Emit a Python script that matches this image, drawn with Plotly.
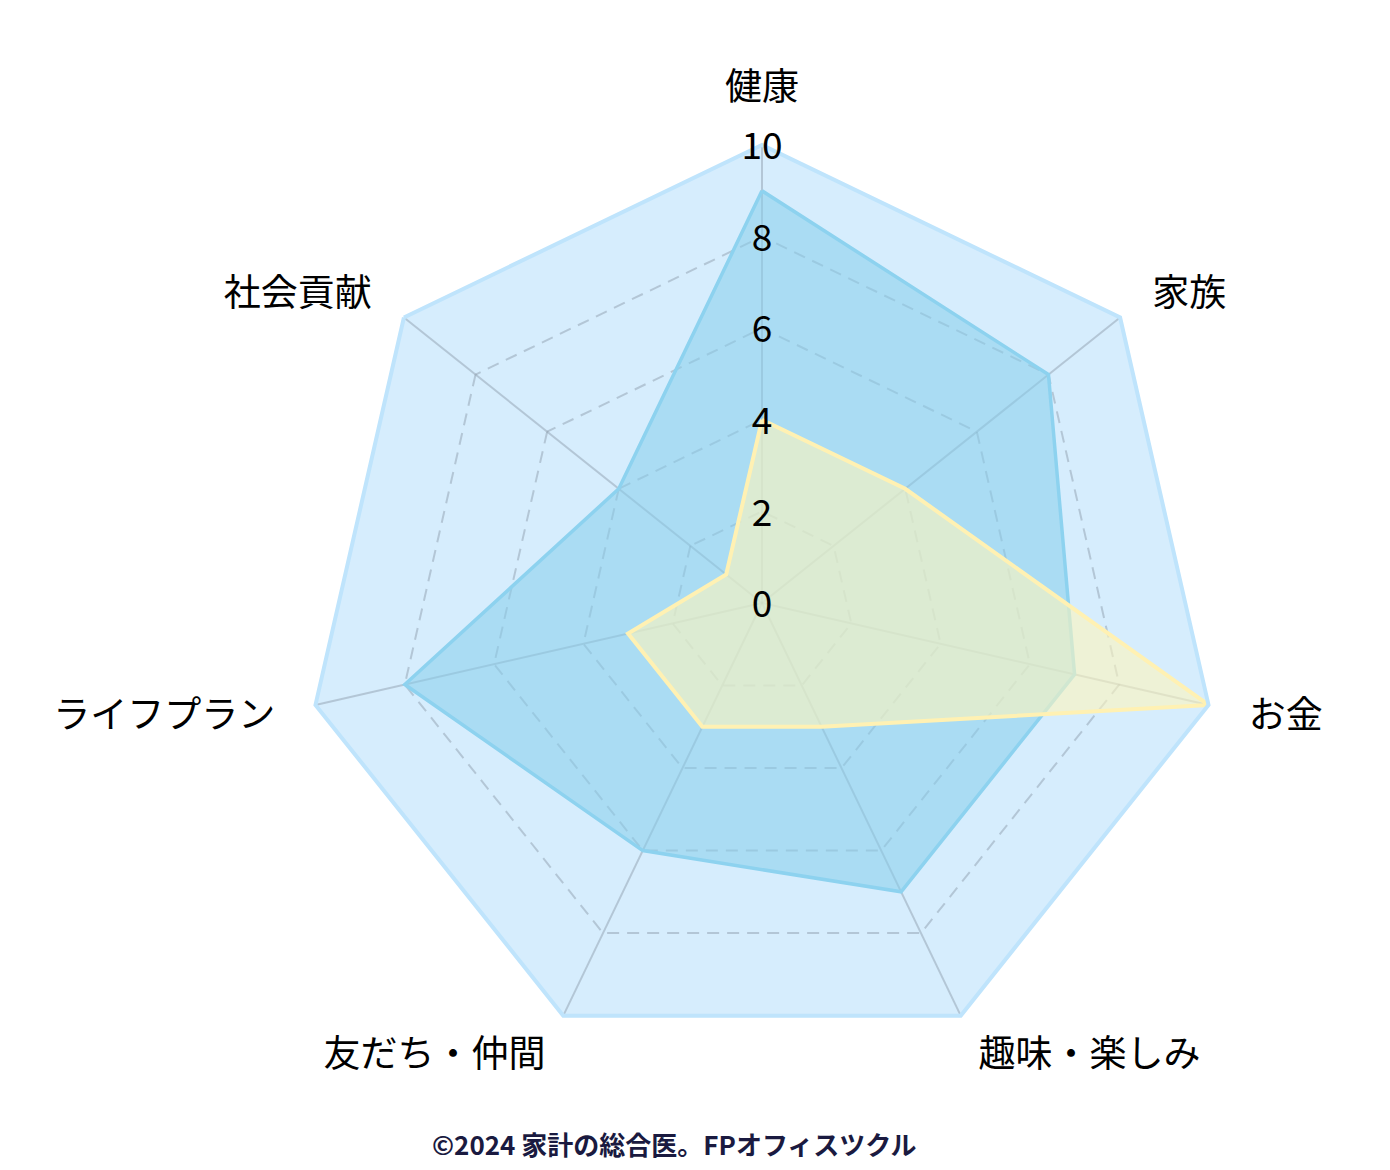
import math
import plotly.graph_objects as go

# ---------------- data ----------------
categories = ["健康", "家族", "お金", "趣味・楽しみ", "友だち・仲間", "ライフプラン", "社会貢献"]
series_blue = [9, 8, 7, 7, 6, 8, 4]
series_yellow = [4, 4, 10, 3, 3, 3, 1]
radial_ticks = [0, 2, 4, 6, 8, 10]
radial_tick_labels = ["0", "2", "4", "6", "8", "10"]
footer_text = "©2024 家計の総合医。FPオフィスツクル"

# ---------------- layout constants ----------------
W, H = 1390, 1170
PAGE_OFF = 8               # body margin of the html page
CX, CY = 762 - PAGE_OFF, 603 - PAGE_OFF   # chart centre in figure pixels
TEXT_DY = 5                # text overlay sits a few px lower
R_MAIN = 458               # pixel radius of the value 10
R_MAX = 10
R_OVER = 11                # overlay subplot range (same px/unit scale)
LABEL_R = 10.9
FONT = "Noto Sans CJK JP"
FS = 37


def domain(radius_px, cx, cy):
    return dict(x=[(cx - radius_px) / W, (cx + radius_px) / W],
                y=[(H - cy - radius_px) / H, (H - cy + radius_px) / H])


def closed(v):
    return list(v) + [v[0]]


n = len(categories)
positions = []
for i in range(n):
    a = 2 * math.pi * i / n
    s, c = math.sin(a), math.cos(a)
    if abs(s) < 0.1:
        positions.append("top center" if c > 0 else "bottom center")
    elif s > 0:
        positions.append("middle right")
    else:
        positions.append("middle left")

fig = go.Figure()

fig.add_trace(go.Scatterpolar(
    r=closed(series_blue), theta=closed(categories), subplot="polar",
    mode="lines", fill="toself", fillcolor="rgba(135,206,235,0.55)",
    line=dict(color="#8dd2ef", width=3.5), hoverinfo="skip"))

fig.add_trace(go.Scatterpolar(
    r=closed(series_yellow), theta=closed(categories), subplot="polar",
    mode="lines", fill="toself", fillcolor="rgba(254,245,188,0.6)",
    line=dict(color="#fff1b3", width=4), hoverinfo="skip"))

# radial tick labels, centred on the top spoke
fig.add_trace(go.Scatterpolar(
    r=radial_ticks, theta=[categories[0]] * len(radial_ticks), subplot="polar2",
    mode="text", text=radial_tick_labels, textposition="middle center",
    textfont=dict(family=FONT, size=FS, color="#000000"),
    cliponaxis=False, hoverinfo="skip"))

# category labels
fig.add_trace(go.Scatterpolar(
    r=[LABEL_R] * n, theta=categories, subplot="polar2",
    mode="text", text=categories, textposition=positions,
    textfont=dict(family=FONT, size=FS, color="#000000"),
    cliponaxis=False, hoverinfo="skip"))

grid_color = "rgba(130,145,160,0.42)"

fig.update_layout(
    width=W, height=H,
    margin=dict(l=0, r=0, t=0, b=0),
    paper_bgcolor="white",
    showlegend=False,
    font=dict(family=FONT),
    polar=dict(
        domain=domain(R_MAIN, CX, CY),
        bgcolor="#d6edfd",
        gridshape="linear",
        radialaxis=dict(range=[0, R_MAX], tickvals=radial_ticks[1:-1],
                        showticklabels=False, ticks="", showline=False,
                        gridcolor=grid_color, gridwidth=2, griddash="12px,8px"),
        angularaxis=dict(categoryorder="array", categoryarray=categories,
                         rotation=90, direction="clockwise",
                         showticklabels=False, ticks="",
                         showline=True, linecolor="#bfe4fc", linewidth=4,
                         gridcolor=grid_color, gridwidth=2),
    ),
    polar2=dict(
        domain=domain(R_MAIN * R_OVER / R_MAX, CX, CY + TEXT_DY),
        bgcolor="rgba(0,0,0,0)",
        radialaxis=dict(range=[0, R_OVER], visible=False),
        angularaxis=dict(categoryorder="array", categoryarray=categories,
                         rotation=90, direction="clockwise", visible=False),
    ),
    annotations=[dict(
        text=footer_text, xref="paper", yref="paper",
        x=(674 - PAGE_OFF) / W, y=(H - (1143 - PAGE_OFF)) / H,
        xanchor="center", yanchor="middle",
        showarrow=False,
        font=dict(family=FONT, size=26, color="#1a1a40", weight=700))],
)

fig.write_html("out.html")
